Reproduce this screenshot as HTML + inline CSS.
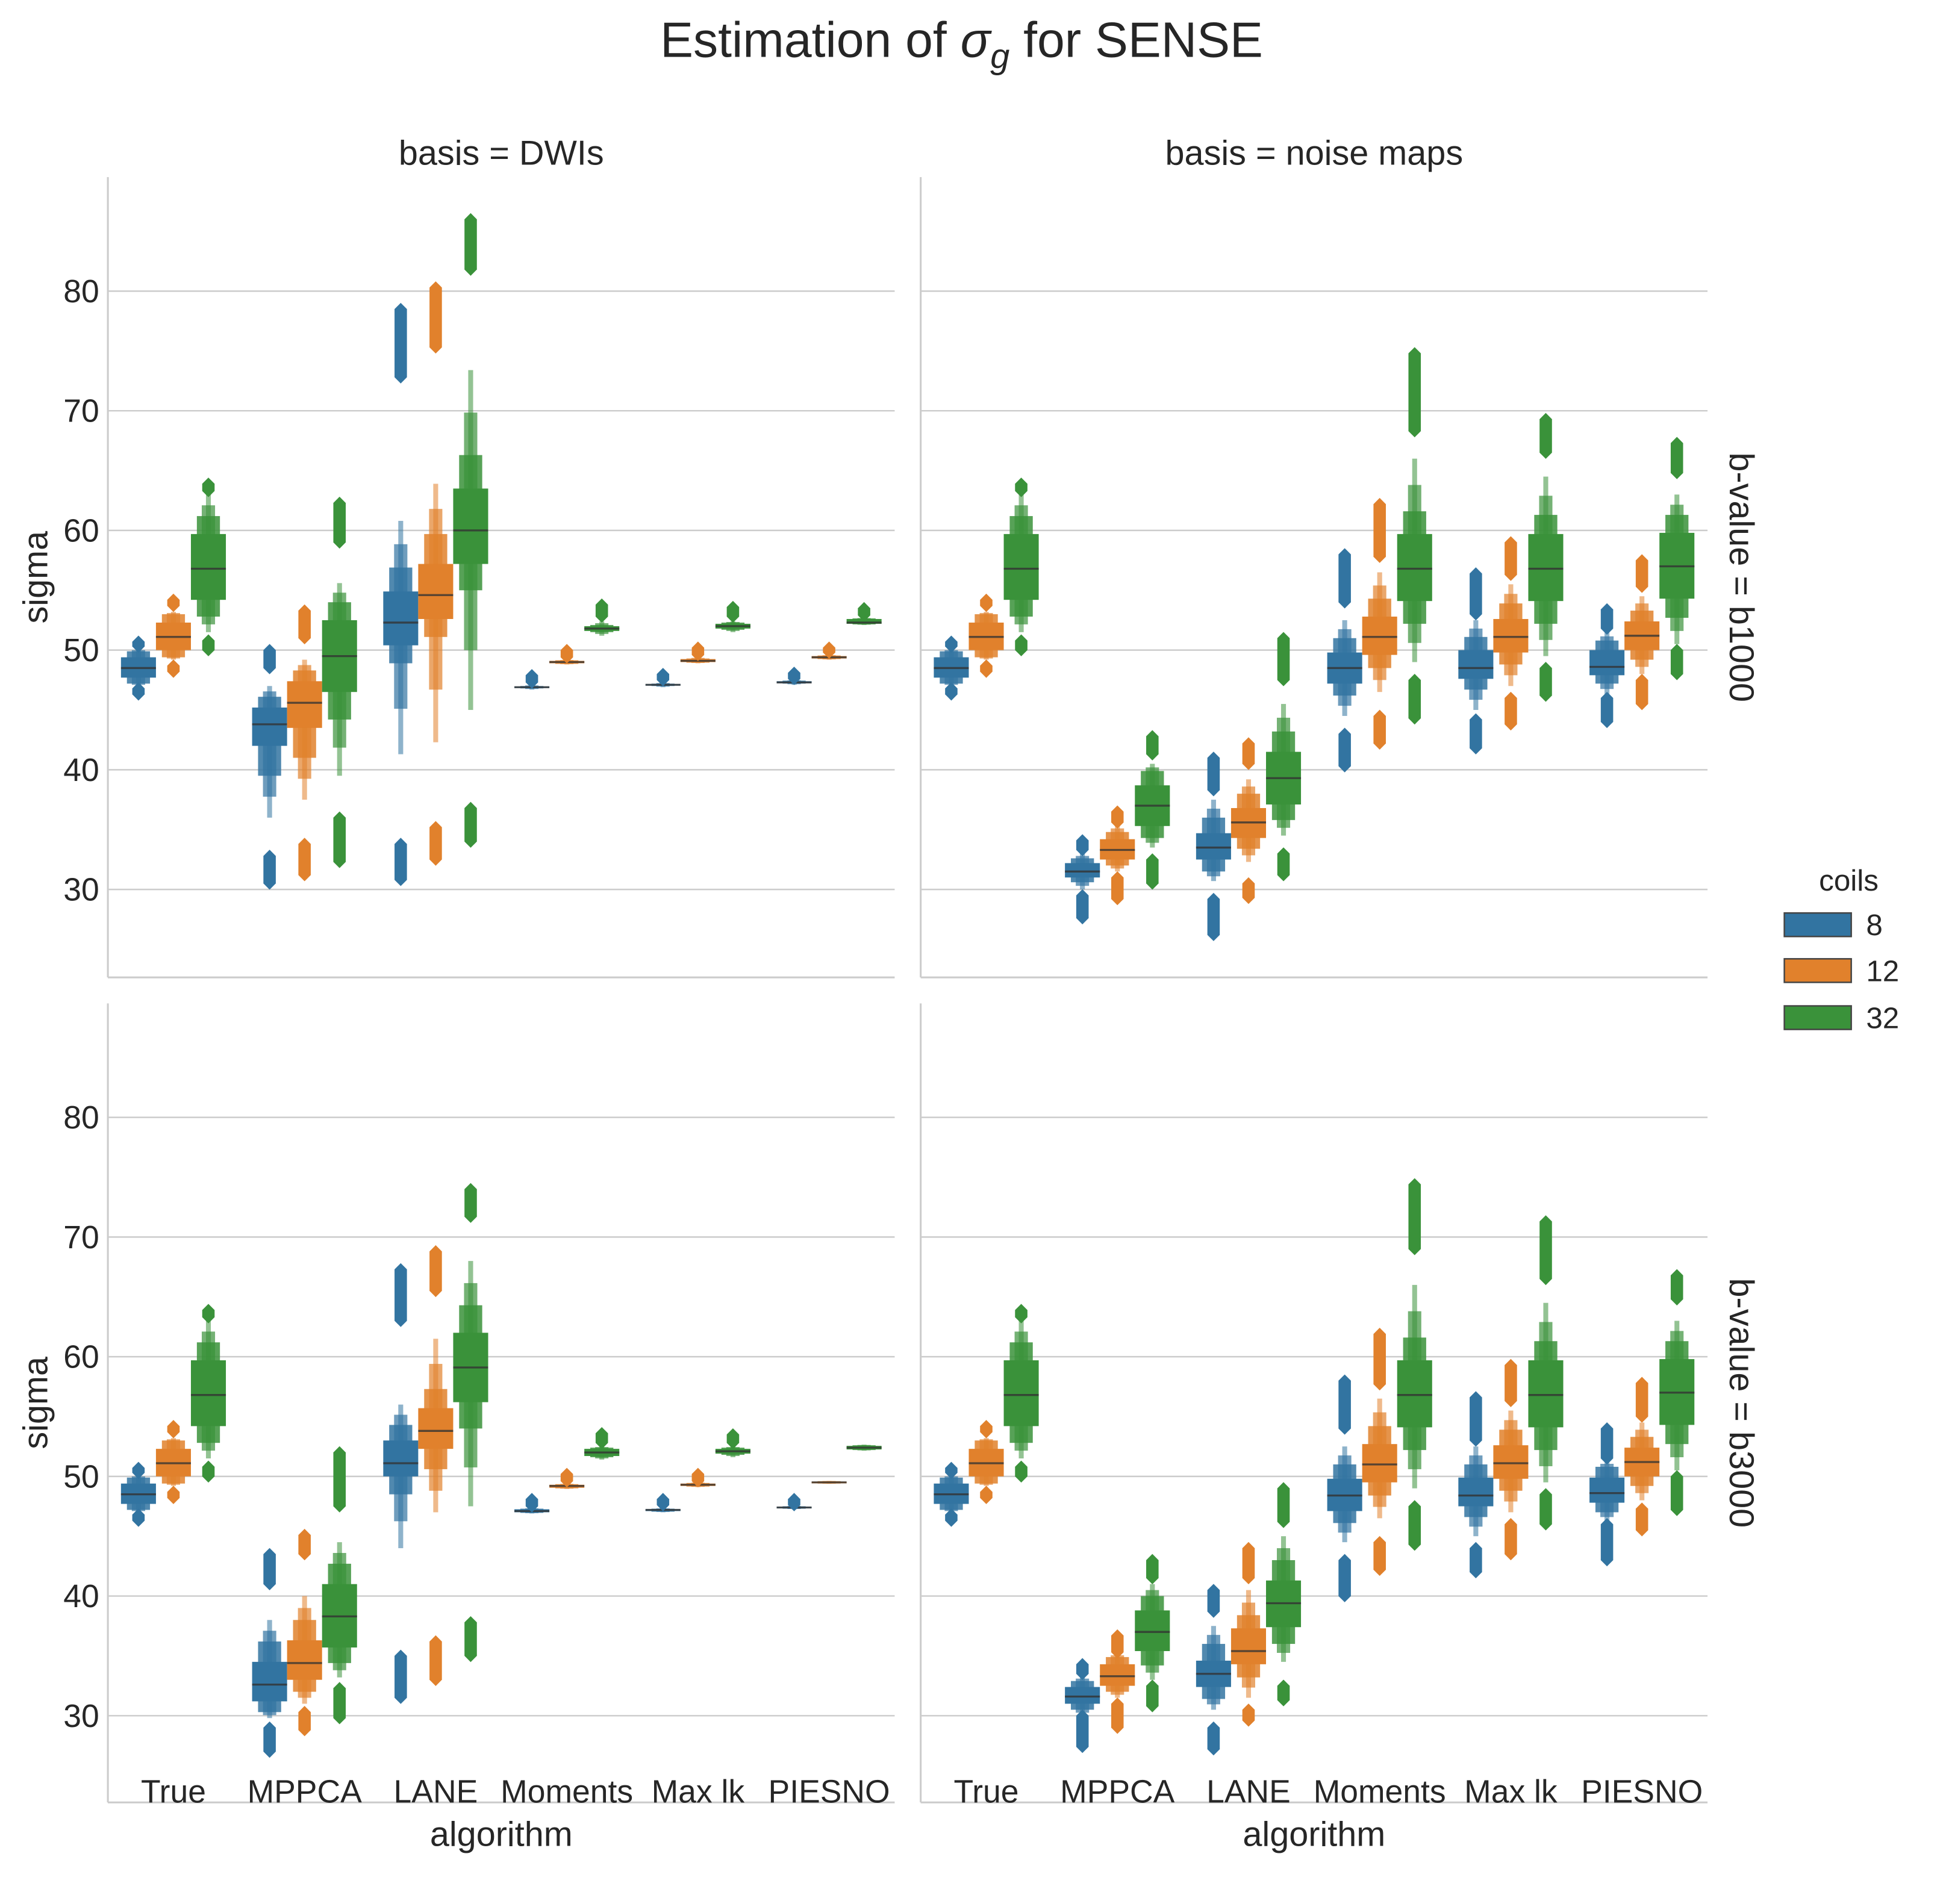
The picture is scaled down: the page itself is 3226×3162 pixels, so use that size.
<!DOCTYPE html>
<html><head><meta charset="utf-8"><style>
html,body{margin:0;padding:0;background:#fff}
svg{display:block}
text{font-family:"Liberation Sans",Arial,sans-serif;fill:#262626}
</style></head><body>
<svg id="chart" width="3226" height="3162" viewBox="0 0 1568 1537" xmlns="http://www.w3.org/2000/svg">
<text x="776" y="46" font-size="40" text-anchor="middle">Estimation of <tspan font-style="italic">σ</tspan><tspan font-style="italic" font-size="28" dy="9">g</tspan><tspan dy="-9"> for SENSE</tspan></text>
<g id="panels"></g>
<g>
<text x="1492" y="719" font-size="24" text-anchor="middle">coils</text>
<rect x="1440" y="737" width="54" height="19" fill="#3274a1" stroke="#444" stroke-width="1.2"/>
<text x="1506" y="755" font-size="24">8</text>
<rect x="1440" y="774" width="54" height="19" fill="#e1812c" stroke="#444" stroke-width="1.2"/>
<text x="1506" y="792" font-size="24">12</text>
<rect x="1440" y="812" width="54" height="19" fill="#3a923a" stroke="#444" stroke-width="1.2"/>
<text x="1506" y="830" font-size="24">32</text>
</g>
</svg>
<script>
const categories = ["True","MPPCA","LANE","Moments","Max lk","PIESNO"];
const coils = ["8","12","32"];
const yTicks = [30,40,50,60,70,80];
// rows: [median, q1, q3, l2lo, l2hi, extLo, extHi, outLoA, outLoB, outHiA, outHiB]; order: category x coil
const dwiB1000 = [
 [48.5,47.7,49.4,47.2,49.9,47,50.1,46.3,46.8,50.3,50.7],[51.1,50,52.3,49.4,53,49.2,53.2,48.2,48.7,53.7,54.2],[56.8,54.2,59.7,52.8,61.2,51.5,63,50,50.8,63.3,63.9],
 [43.8,42,45.2,39.5,46.1,36,47,30.5,32.8,48.5,50],[45.6,43.5,47.4,41,48.3,37.5,49.2,31.2,33.8,51,53.3],[49.5,46.5,52.5,44.2,54,39.5,55.6,32.3,36,59,62.3],
 [52.3,50.4,54.9,48.9,56.9,41.3,60.8,30.8,33.8,72.8,78.5],[54.6,52.6,57.2,51.1,59.7,42.3,63.9,32.5,35.2,75.3,80.3],[60,57.2,63.5,55,66.3,45,73.4,34,36.8,81.8,86],
 [46.9,46.85,46.95,46.8,47,46.7,47.1,null,null,47.3,47.9],[49,48.9,49.1,48.85,49.15,48.8,49.2,null,null,49.4,50],[51.8,51.6,52,51.5,52.1,51.2,52.4,null,null,52.8,53.8],
 [47.1,47.05,47.15,47,47.2,46.9,47.3,null,null,47.5,48],[49.1,49,49.25,48.95,49.3,48.9,49.4,null,null,49.6,50.2],[52,51.8,52.2,51.7,52.3,51.5,52.4,null,null,52.8,53.6],
 [47.3,47.25,47.4,47.2,47.45,47.1,47.5,null,null,47.6,48.1],[49.4,49.3,49.5,49.25,49.55,49.2,49.6,null,null,49.8,50.2],[52.3,52.2,52.6,52.15,52.65,52.1,52.7,null,null,52.9,53.5]];
const nmB1000 = [
 [48.5,47.7,49.4,47.2,49.9,47,50.1,46.3,46.8,50.3,50.7],[51.1,50,52.3,49.4,53,49.2,53.2,48.2,48.7,53.7,54.2],[56.8,54.2,59.7,52.8,61.2,51.5,63,50,50.8,63.3,63.9],
 [31.5,31,32.2,30.6,32.6,30,33,27.6,29.5,33.3,34.1],[33.3,32.5,34.2,32,34.8,31.5,35.4,29.2,31,35.6,36.5],[37,35.3,38.7,34.3,39.9,33.5,40.5,30.5,32.5,41.3,42.8],
 [33.5,32.5,34.7,31.5,36,30.7,37.5,26.2,29.2,38.3,41],[35.6,34.3,36.8,33.4,38,32.3,39.2,29.3,30.5,40.5,42.2],[39.3,37.1,41.5,35.8,43.2,34.5,45.5,31.2,33,47.5,51],
 [48.5,47.2,49.8,46.2,51,44.5,52.5,40.3,43,54,58],[51.1,49.6,52.8,48.5,54.3,46.5,56.5,42.2,44.5,57.8,62.2],[56.8,54.1,59.7,52.2,61.6,49,66,44.3,47.5,68.3,74.8],
 [48.5,47.6,50,46.7,51.1,45,52.5,41.8,44.2,53,56.4],[51.1,49.8,52.6,48.8,53.9,47,55.5,43.8,46,56.3,59],[56.8,54.1,59.7,52.2,61.3,49.5,64.5,46.2,48.5,66.5,69.3],
 [48.6,47.9,50,47.2,50.8,46.3,51.5,44,46,51.8,53.4],[51.2,50,52.4,49.2,53.3,48,54.5,45.5,47.5,55.3,57.5],[57,54.3,59.8,52.7,61.3,50.5,63,48,50,64.8,67.3]];
const dwiB3000 = [
 [48.5,47.7,49.4,47.2,49.9,47,50.1,46.3,46.8,50.3,50.7],[51.1,50,52.3,49.4,53,49.2,53.2,48.2,48.7,53.7,54.2],[56.8,54.2,59.7,52.8,61.2,51.5,63,50,50.8,63.3,63.9],
 [32.6,31.2,34.5,30.3,36.2,29.8,38,27,29,41,43.5],[34.4,33,36.3,32,38,31,40,28.8,30.3,43.5,45.1],[38.3,35.7,41,34.4,42.7,33.2,44.5,29.8,32.3,47.5,52],
 [51.1,50,53,48.5,54.3,44,56,31.5,35,63,67.3],[53.8,52.3,55.7,50.6,57.3,47,61.5,33,36.2,65.5,68.8],[59.1,56.2,62,54,64.3,47.5,68,35,37.8,71.7,74],
 [47.1,47,47.25,46.95,47.3,46.9,47.35,null,null,47.5,48.1],[49.2,49.05,49.3,49,49.35,48.95,49.4,null,null,49.6,50.2],[52,51.7,52.3,51.6,52.4,51.4,52.5,null,null,52.8,53.6],
 [47.2,47.1,47.25,47.05,47.3,47,47.35,null,null,47.6,48.1],[49.3,49.2,49.4,49.15,49.45,49.1,49.5,null,null,49.6,50.2],[52.1,51.9,52.3,51.8,52.4,51.6,52.5,null,null,52.8,53.5],
 [47.4,47.35,47.45,47.3,47.5,47.25,47.55,null,null,47.6,48.1],[49.5,49.42,49.55,49.4,49.6,49.38,49.62,null,null,null,null],[52.4,52.25,52.55,52.2,52.6,52.15,52.65,null,null,null,null]];
const nmB3000 = [
 [48.5,47.7,49.4,47.2,49.9,47,50.1,46.3,46.8,50.3,50.7],[51.1,50,52.3,49.4,53,49.2,53.2,48.2,48.7,53.7,54.2],[56.8,54.2,59.7,52.8,61.2,51.5,63,50,50.8,63.3,63.9],
 [31.6,31,32.4,30.5,32.9,30,33.3,27.4,30,33.5,34.3],[33.3,32.5,34.3,32,34.9,31.5,35.2,29,31,35.3,36.7],[37,35.4,38.8,34.2,40,33,41,30.8,32.5,41.5,43],
 [33.5,32.4,34.6,31.4,36,30.5,37.5,27.2,29,38.7,40.5],[35.4,34.3,37.3,33.2,38.4,31.5,40.5,29.6,30.5,41.5,44],[39.4,37.4,41.3,36,43,34.5,45,31.3,32.5,46.2,49],
 [48.4,47.1,49.8,46.1,51,44.5,52.5,40,43,54,58],[51,49.5,52.7,48.4,54.2,46.5,56.5,42.2,44.5,57.7,61.9],[56.8,54.1,59.7,52.2,61.6,49,66,44.3,47.5,69,74.4],
 [48.4,47.5,49.9,46.6,51,45,52.5,42,44,53,56.6],[51.1,49.8,52.6,48.8,53.9,47,55.5,43.5,46,56.3,59.3],[56.8,54.1,59.7,52.2,61.3,49.5,64.5,46,48.5,66.5,71.3],
 [48.6,47.8,49.9,47,50.8,46.2,51.3,43,46,51.5,54],[51.2,50,52.4,49.2,53.3,48,54.5,45.5,47.3,55,57.8],[57,54.3,59.8,52.7,61.3,50.5,63,47.2,50,64.8,66.8]];

const colors = ["#3274a1","#e1812c","#3a923a"];
const NS = "http://www.w3.org/2000/svg";
const root = document.getElementById("panels");
function mk(tag, attrs, parent){const e=document.createElementNS(NS,tag);for(const k in attrs)e.setAttribute(k,attrs[k]);(parent||root).appendChild(e);return e;}

const panels = [
 {data:dwiB1000,x0:87,x1:722,y0:143,y1:789,y80:235,col:"basis = DWIs",row:null,left:true,bottom:false,name:"dwis-b1000"},
 {data:nmB1000,x0:743,x1:1378,y0:143,y1:789,y80:235,col:"basis = noise maps",row:"b-value = b1000",left:false,bottom:false,name:"noise-maps-b1000"},
 {data:dwiB3000,x0:87,x1:722,y0:810,y1:1455,y80:902,col:null,row:null,left:true,bottom:true,name:"dwis-b3000"},
 {data:nmB3000,x0:743,x1:1378,y0:810,y1:1455,y80:902,col:null,row:"b-value = b3000",left:false,bottom:true,name:"noise-maps-b3000"}];
const pxPerUnit = 9.66;

panels.forEach(p=>{
  const g = mk("g",{});
  
  
  const yS = v => p.y80 + (80 - v)*pxPerUnit;
  const band = (p.x1-p.x0)/categories.length;
  const xS = (ci,hi) => p.x0 + band*(ci+0.5) + (hi-1)*band*0.8/3;
  const hw = band*0.8/3;
  yTicks.forEach(t=>{
    const l = mk("line",{x1:p.x0,x2:p.x1,y1:yS(t),y2:yS(t),stroke:"#cccccc","stroke-width":1.2},g);
    
    
    if(p.left){
      const tx = mk("text",{x:p.x0-7,y:yS(t)+9,"font-size":26,"text-anchor":"end"},g);
      
      
      tx.textContent = t;
    }
  });
  const sl = mk("line",{x1:p.x0,x2:p.x0,y1:p.y0,y2:p.y1,stroke:"#cccccc","stroke-width":1.5},g);
  
  
  const sb = mk("line",{x1:p.x0,x2:p.x1,y1:p.y1,y2:p.y1,stroke:"#cccccc","stroke-width":1.5},g);
  
  
  if(p.left){
    const yl = mk("text",{x:0,y:0,"font-size":28,"text-anchor":"middle",transform:`translate(38,${(p.y0+p.y1)/2}) rotate(-90)`},g);
    
    
    yl.textContent = "sigma";
  }
  if(p.col){
    const ct = mk("text",{x:(p.x0+p.x1)/2,y:133,"font-size":28,"text-anchor":"middle"},g);
    
    
    ct.textContent = p.col;
  }
  if(p.row){
    const rt = mk("text",{x:0,y:0,"font-size":28,"text-anchor":"middle",transform:`translate(1396,${(p.y0+p.y1)/2}) rotate(90)`},g);
    
    
    rt.textContent = p.row;
  }
  if(p.bottom){
    categories.forEach((c,ci)=>{
      const t = mk("text",{x:p.x0+band*(ci+0.5),y:1455,"font-size":26,"text-anchor":"middle"},g);
      
      
      t.textContent = c;
    });
    const xl = mk("text",{x:(p.x0+p.x1)/2,y:1490,"font-size":28,"text-anchor":"middle"},g);
    
    
    xl.textContent = "algorithm";
  }
  p.data.forEach((r,i)=>{
    const ci = Math.floor(i/3), hi = i%3;
    const cx = xS(ci,hi), col = colors[hi];
    const bg = mk("g",{},g);
    
    
    const [med,q1,q3,l2lo,l2hi,elo,ehi,oa,ob,oc,od] = r;
    const midLo=(l2lo+elo)/2, midHi=(l2hi+ehi)/2;
    const tiers = [[elo,ehi,0.14,0.55],[midLo,midHi,0.38,0.7],[l2lo,l2hi,0.66,0.85],[q1,q3,1,1]];
    tiers.forEach(([lo,hiV,wf,op])=>{
      const w = hw*wf;
      mk("rect",{x:cx-w/2,y:yS(hiV),width:w,height:Math.max(yS(lo)-yS(hiV),1),fill:col,"fill-opacity":op},bg);
    });
    mk("line",{x1:cx-hw/2,x2:cx+hw/2,y1:yS(med),y2:yS(med),stroke:"#333","stroke-opacity":0.8,"stroke-width":1.6},bg);
    const lozenge=(a,b)=>{
      const yt=yS(Math.max(a,b)), yb=yS(Math.min(a,b)), d=5;
      mk("polygon",{points:`${cx},${yt-d} ${cx+d},${yt} ${cx+d},${yb} ${cx},${yb+d} ${cx-d},${yb} ${cx-d},${yt}`,fill:col},bg);
    };
    if(oa!==null) lozenge(oa,ob);
    if(oc!==null) lozenge(oc,od);
  });
});
</script>
</body></html>
